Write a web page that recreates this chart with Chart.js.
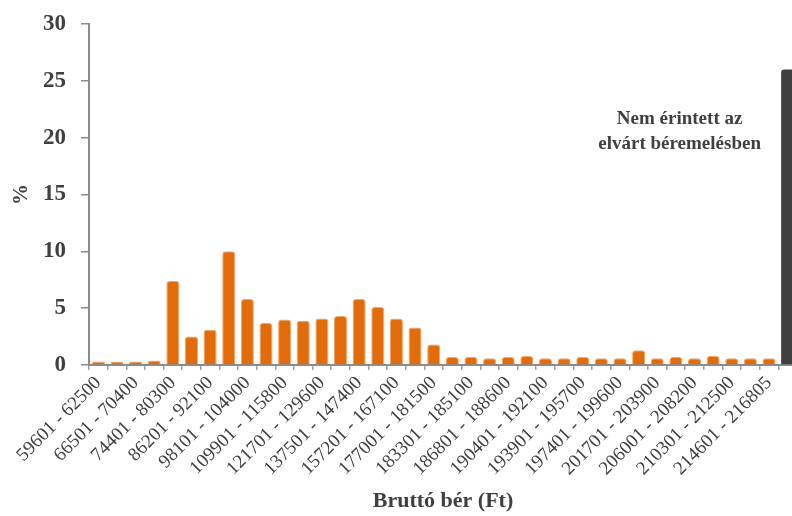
<!DOCTYPE html>
<html>
<head>
<meta charset="utf-8">
<script src="https://cdn.jsdelivr.net/npm/chart.js@4/dist/chart.umd.min.js"></script>
<style>
  html, body { margin: 0; padding: 0; background: #ffffff; overflow: hidden; width: 792px; height: 516px; }
  #c { display: block; }
</style>
</head>
<body>
<canvas id="c" width="797" height="516"></canvas>
<script>
// Wage bands (Ft)
const categories = [
  '59601 - 62500', '62501 - 66500', '66501 - 70400', '70401 - 74400',
  '74401 - 80300', '80301 - 86200', '86201 - 92100', '92101 - 98100',
  '98101 - 104000', '104001 - 109900', '109901 - 115800', '115801 - 121700',
  '121701 - 129600', '129601 - 137500', '137501 - 147400', '147401 - 157200',
  '157201 - 167100', '167101 - 177000', '177001 - 181500', '181501 - 183300',
  '183301 - 185100', '185101 - 186800', '186801 - 188600', '188601 - 190400',
  '190401 - 192100', '192101 - 193900', '193901 - 195700', '195701 - 197400',
  '197401 - 199600', '199601 - 201700', '201701 - 203900', '203901 - 206000',
  '206001 - 208200', '208201 - 210300', '210301 - 212500', '212501 - 214600',
  '214601 - 216805'
];
const notAffectedLabel = 'Nem érintett az elvárt béremelésben';

// Share of workers (%) per band
const bandValues = [
  0.3, 0.3, 0.3, 0.4, 7.4, 2.5, 3.1, 10.0, 5.8, 3.7,
  4.0, 3.9, 4.1, 4.3, 5.8, 5.1, 4.1, 3.3, 1.8, 0.7,
  0.7, 0.6, 0.7, 0.8, 0.6, 0.6, 0.7, 0.6, 0.6, 1.3,
  0.6, 0.7, 0.6, 0.8, 0.6, 0.6, 0.6
];
const notAffectedValue = 26;

const yTicks = [0, 5, 10, 15, 20, 25, 30];
const yTitle = '%';
const xTitle = 'Bruttó bér (Ft)';
const annotationLines = ['Nem érintett az', 'elvárt béremelésben'];

const allLabels = categories.concat([notAffectedLabel]);
const orangeData = bandValues.concat([null]);
const darkData = categories.map(() => null).concat([notAffectedValue]);

const FONT = "'Liberation Serif', 'DejaVu Serif', serif";
const TEXT = '#404040';
const AXIS = '#8c8c8c';

const annotationPlugin = {
  id: 'annot',
  afterDatasetsDraw(chart) {
    const ctx = chart.ctx;
    const x = chart.scales.x;
    const y = chart.scales.y;
    const p31 = x.getPixelForValue(31);
    const p32 = x.getPixelForValue(32);
    const cx = p31 + (p32 - p31) * 0.2;
    ctx.save();
    ctx.fillStyle = TEXT;
    ctx.font = "bold 19px " + FONT;
    ctx.textAlign = 'center';
    ctx.textBaseline = 'middle';
    ctx.fillText(annotationLines[0], cx, y.getPixelForValue(21.6));
    ctx.fillText(annotationLines[1], cx, y.getPixelForValue(19.4));
    ctx.restore();
  }
};

new Chart(document.getElementById('c'), {
  type: 'bar',
  data: {
    labels: allLabels,
    datasets: [
      {
        data: orangeData,
        backgroundColor: '#E36C0A',
        borderColor: '#F2A86A',
        borderWidth: { top: 1, left: 1, right: 1, bottom: 0 },
        borderRadius: { topLeft: 3, topRight: 3 },
        borderSkipped: 'bottom',
        grouped: false,
        categoryPercentage: 1.0,
        barPercentage: 0.7
      },
      {
        data: darkData,
        backgroundColor: '#404040',
        borderRadius: { topLeft: 3, topRight: 3 },
        borderSkipped: 'bottom',
        grouped: false,
        categoryPercentage: 1.0,
        barPercentage: 0.7
      }
    ]
  },
  options: {
    responsive: false,
    maintainAspectRatio: false,
    animation: false,
    events: [],
    layout: { padding: { top: 24, left: 0, right: 0, bottom: 0 } },
    plugins: { legend: { display: false }, tooltip: { enabled: false } },
    scales: {
      x: {
        afterFit(s) { s.height = 151; s.paddingLeft = 0; s.paddingRight = 0; },
        grid: { display: true, drawOnChartArea: false, drawTicks: true, tickLength: 5, color: '#a0a0a0', lineWidth: 1.5, offset: true },
        border: { display: true, color: AXIS, width: 2 },
        ticks: {
          autoSkip: false,
          maxRotation: 45,
          minRotation: 45,
          padding: 2,
          color: TEXT,
          font: { family: FONT, size: 19 },
          callback(v, i) { return (i % 2 === 0 && i < categories.length) ? categories[i] : ''; }
        },
        title: {
          display: true,
          text: xTitle,
          color: TEXT,
          font: { family: FONT, size: 22, weight: 'bold' },
          padding: { top: 0, bottom: 1 }
        }
      },
      y: {
        min: 0,
        max: 30,
        afterFit(s) { s.width = 89; s.paddingTop = 0; s.paddingBottom = 0; },
        afterBuildTicks(s) { s.ticks = yTicks.map(v => ({ value: v })); },
        grid: { display: true, drawOnChartArea: false, drawTicks: true, tickLength: 8, color: AXIS, lineWidth: 1.5 },
        border: { display: true, color: AXIS, width: 2 },
        ticks: {
          color: TEXT,
          padding: 15,
          font: { family: FONT, size: 23, weight: 'bold' }
        },
        title: {
          display: true,
          text: yTitle,
          color: TEXT,
          font: { family: FONT, size: 21, weight: 'bold' },
          padding: { top: 9, bottom: 0 }
        }
      }
    }
  },
  plugins: [annotationPlugin]
});
</script>
</body>
</html>
